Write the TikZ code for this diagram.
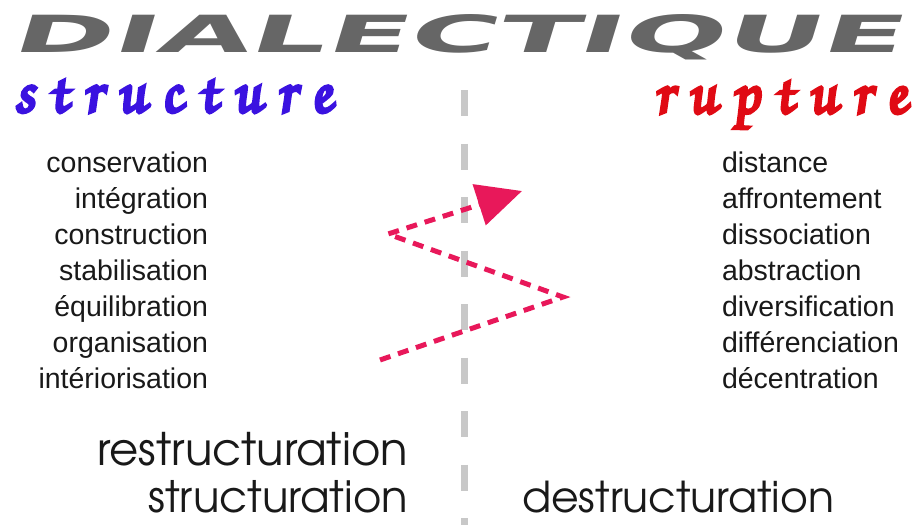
\documentclass[tikz,border=0pt]{standalone}
\usepackage{fontspec}
\usetikzlibrary{arrows.meta}
\setmainfont{Liberation Sans}
\IfFontExistsTF{TeX Gyre Adventor}{\newfontfamily\geofont{TeX Gyre Adventor}}{\newfontfamily\geofont{Poppins}}
\IfFontExistsTF{TeX Gyre Chorus}{\newfontfamily\callfont[FakeBold=5,FakeSlant=-0.12,LetterSpace=23]{TeX Gyre Chorus}}{\newfontfamily\callfont[FakeBold=1.5,FakeSlant=0.2,LetterSpace=40]{Liberation Serif}}
\newfontfamily\titlefont[FakeSlant=0.13]{DejaVu Sans}
\definecolor{titlegray}{HTML}{666666}
\definecolor{structblue}{HTML}{3A12E0}
\definecolor{rupred}{HTML}{E00A14}
\definecolor{arrowred}{HTML}{E8185A}
\definecolor{axisgray}{HTML}{C8C8C8}
\begin{document}
\begin{tikzpicture}[x=1pt,y=-1pt,
  every node/.style={inner sep=0pt,outer sep=0pt},
  leftword/.style={anchor=base east,font=\fontsize{28.5}{30}\selectfont,text=black!90},
  rightword/.style={anchor=base west,font=\fontsize{28.5}{30}\selectfont,text=black!90},
  bigword/.style={anchor=base west,text=black!90},
  axisline/.style={draw=axisgray,line width=7pt,dash pattern=on 26pt off 27.5pt},
  zig/.style={draw=arrowred,line width=5pt,dash pattern=on 11pt off 8pt,line join=miter}]
\useasboundingbox (0,0) rectangle (918,525);
% title
\node[anchor=base west,text=titlegray] (title) at (11,52)
  {\resizebox{890pt}{38pt}{\titlefont\bfseries DIALECTIQUE}};
% headings
\node[anchor=base west,text=structblue] (structure) at (15,112)
  {\resizebox{318pt}{!}{\callfont structure}};
\node[anchor=base west,text=rupred] (rupture) at (655,113)
  {\resizebox{253pt}{!}{\callfont rupture}};
% axis
\coordinate (axtop) at (464,90);
\coordinate (axbot) at (464,525);
\draw[axisline] (axtop) -- (axbot);
% left list
\node[leftword] (l1) at (208,172) {conservation};
\node[leftword] (l2) at (208,208) {intégration};
\node[leftword] (l3) at (208,244) {construction};
\node[leftword] (l4) at (208,280) {stabilisation};
\node[leftword] (l5) at (208,316) {équilibration};
\node[leftword] (l6) at (208,352) {organisation};
\node[leftword] (l7) at (208,388) {intériorisation};
% right list
\node[rightword] (r1) at (722,172) {distance};
\node[rightword] (r2) at (722,208) {affrontement};
\node[rightword] (r3) at (722,244) {dissociation};
\node[rightword] (r4) at (722,280) {abstraction};
\node[rightword] (r5) at (722,316) {diversification};
\node[rightword] (r6) at (722,352) {différenciation};
\node[rightword] (r7) at (722,388) {décentration};
% bottom words
\node[bigword] (restr) at (97,465) {\resizebox{311pt}{!}{\geofont restructuration}};
\node[bigword] (str) at (148,512) {\resizebox{260pt}{!}{\geofont structuration}};
\node[bigword] (destr) at (522,512) {\resizebox{312pt}{!}{\geofont destructuration}};
% zigzag arrow
\coordinate (zs) at (380,360);
\coordinate (zb1) at (563,297);
\coordinate (zb2) at (388,234);
\coordinate (ztip) at (522,191);
\draw[zig,-{Triangle[length=45pt,width=42pt,fill=arrowred]}] (zs) -- (zb1) -- (zb2) -- (ztip);
\end{tikzpicture}
\end{document}
